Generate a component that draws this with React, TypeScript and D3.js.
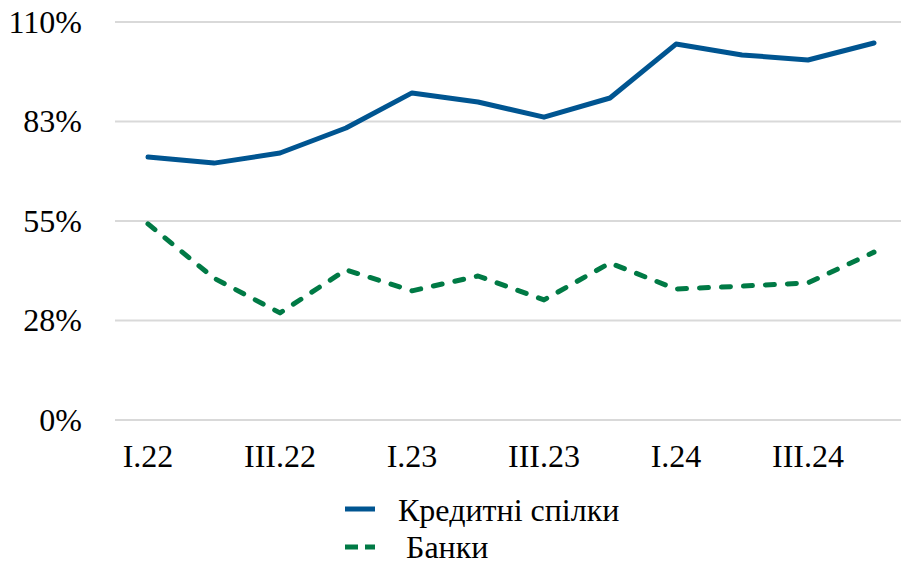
import React, { useEffect, useRef } from "react";
import * as d3 from "d3";

const quarters = [
  "I.22", "II.22", "III.22", "IV.22",
  "I.23", "II.23", "III.23", "IV.23",
  "I.24", "II.24", "III.24", "IV.24",
];
const creditUnions = [72.7, 71.0, 73.8, 80.7, 90.4, 87.9, 83.7, 89.0, 103.9, 100.9, 99.5, 104.2];
const banks = [54.2, 39.2, 29.6, 41.5, 35.7, 39.8, 33.2, 43.4, 36.2, 37.0, 37.9, 46.4];
const yTicks = [0, 27.5, 55, 82.5, 110];
const yTickLabels = ["0%", "28%", "55%", "83%", "110%"];
const seriesNames = ["Кредитні спілки", " Банки"];

const width = 901;
const height = 563;
const font = "Liberation Serif, Times New Roman, Times, serif";

export default function App() {
  const ref = useRef<SVGSVGElement>(null);

  useEffect(() => {
    const svg = d3.select(ref.current);
    svg.selectAll("*").remove();

    const x = d3.scalePoint<string>()
      .domain(quarters)
      .range([115, 907])
      .padding(0.5);
    const y = d3.scaleLinear()
      .domain([0, 110])
      .range([420, 22]);

    // gridlines
    svg.append("g")
      .selectAll("line")
      .data(yTicks)
      .join("line")
      .attr("x1", 115)
      .attr("x2", width)
      .attr("y1", d => y(d))
      .attr("y2", d => y(d))
      .attr("stroke", "#d9d9d9")
      .attr("stroke-width", 2);

    // y labels
    svg.append("g")
      .selectAll("text")
      .data(yTicks)
      .join("text")
      .attr("x", 82)
      .attr("y", d => y(d))
      .attr("dy", "0.34em")
      .attr("text-anchor", "end")
      .style("font-family", font)
      .style("font-size", "32px")
      .attr("fill", "#000")
      .text((d, i) => yTickLabels[i]);

    // x labels, every other quarter
    svg.append("g")
      .selectAll("text")
      .data(quarters.filter((q, i) => i % 2 === 0))
      .join("text")
      .attr("x", d => x(d)!)
      .attr("y", 467)
      .attr("text-anchor", "middle")
      .style("font-family", font)
      .style("font-size", "32px")
      .attr("fill", "#000")
      .text(d => d);

    const line = d3.line<number>()
      .x((d, i) => x(quarters[i])!)
      .y(d => y(d));

    svg.append("path")
      .datum(creditUnions)
      .attr("d", line)
      .attr("fill", "none")
      .attr("stroke", "#005591")
      .attr("stroke-width", 5)
      .attr("stroke-linejoin", "round")
      .attr("stroke-linecap", "round");

    svg.append("path")
      .datum(banks)
      .attr("d", line)
      .attr("fill", "none")
      .attr("stroke", "#007A45")
      .attr("stroke-width", 5)
      .attr("stroke-dasharray", "9,13")
      .attr("stroke-linejoin", "round")
      .attr("stroke-linecap", "round");

    // legend
    const legend = svg.append("g");
    legend.append("line")
      .attr("x1", 345).attr("x2", 375)
      .attr("y1", 509).attr("y2", 509)
      .attr("stroke", "#005591")
      .attr("stroke-width", 5);
    legend.append("line")
      .attr("x1", 345).attr("x2", 375)
      .attr("y1", 547).attr("y2", 547)
      .attr("stroke", "#007A45")
      .attr("stroke-width", 5)
      .attr("stroke-dasharray", "13,7");
    legend.selectAll("text")
      .data(seriesNames)
      .join("text")
      .attr("x", 398)
      .attr("y", (d, i) => 521 + i * 37)
      .style("font-family", font)
      .style("font-size", "32px")
      .style("white-space", "pre")
      .attr("fill", "#000")
      .text(d => d);
  }, []);

  return (
    <svg
      ref={ref}
      width={width}
      height={height}
      style={{ position: "absolute", left: 0, top: 0, background: "#fff" }}
    />
  );
}
